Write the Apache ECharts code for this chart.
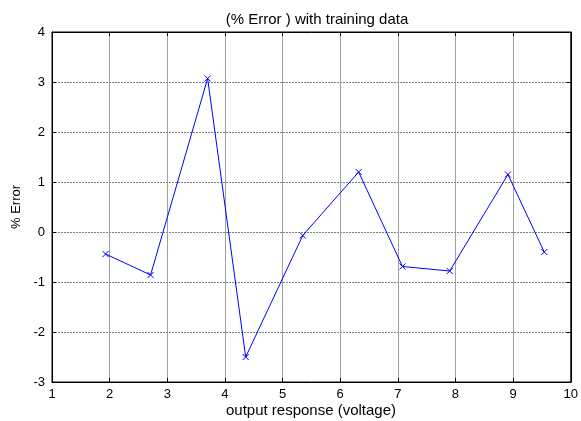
<!DOCTYPE html>
<html>
<head>
<meta charset="utf-8">
<script src="https://cdn.jsdelivr.net/npm/echarts@6/dist/echarts.min.js"></script>
<style>
  html, body { margin: 0; padding: 0; background: #fff; }
  #chart { width: 581px; height: 421px; }
</style>
</head>
<body>
<div id="chart"></div>
<script>
// Output response (volts) and the matching percentage error
const voltage = [1.93, 2.71, 3.70, 4.36, 5.35, 6.32, 7.08, 7.90, 8.91, 9.54];
const percentError = [-0.44, -0.86, 3.07, -2.50, -0.07, 1.20, -0.69, -0.78, 1.15, -0.40];
const xTicks = [1, 2, 3, 4, 5, 6, 7, 8, 9, 10];
const yTicks = [-3, -2, -1, 0, 1, 2, 3, 4];

const points = voltage.map((v, i) => [v, percentError[i]]);
const font = 'Liberation Sans, Arial, sans-serif';
const tickStyle = { inside: true, length: 4, lineStyle: { color: '#000' } };

// Mirrored axes on the top and right edges carry the inward ticks only
function mirrorAxis(ticks, position) {
  return {
    type: 'value',
    position: position,
    min: ticks[0],
    max: ticks[ticks.length - 1],
    interval: 1,
    axisLine: { show: true, onZero: false, lineStyle: { color: '#000' } },
    axisTick: tickStyle,
    axisLabel: { show: false },
    splitLine: { show: false }
  };
}

const chart = echarts.init(document.getElementById('chart'), null, { renderer: 'canvas' });
chart.setOption({
  animation: false,
  backgroundColor: '#fff',
  title: {
    text: '(% Error ) with training data',
    left: 312,
    top: 7,
    textAlign: 'center',
    textStyle: { fontFamily: font, fontSize: 15, fontWeight: 'normal', color: '#000' }
  },
  graphic: [{
    type: 'text',
    style: {
      text: 'output response (voltage)',
      x: 311, y: 411,
      align: 'center', verticalAlign: 'middle',
      font: '15px ' + font, fill: '#000'
    }
  }],
  grid: { left: 52, right: 8, top: 32, bottom: 39, show: true, borderColor: '#000', borderWidth: 1 },
  xAxis: [{
    type: 'value',
    min: xTicks[0],
    max: xTicks[xTicks.length - 1],
    interval: 1,
    axisLine: { show: true, onZero: false, lineStyle: { color: '#000' } },
    axisTick: tickStyle,
    axisLabel: { fontFamily: font, fontSize: 13, color: '#000', margin: 6 },
    splitLine: { show: true, lineStyle: { color: '#a0a0a0', width: 1 } }
  }, mirrorAxis(xTicks, 'top')],
  yAxis: [{
    type: 'value',
    min: yTicks[0],
    max: yTicks[yTicks.length - 1],
    interval: 1,
    name: '% Error',
    nameLocation: 'middle',
    nameGap: 27,
    nameTextStyle: { fontFamily: font, fontSize: 13, color: '#000' },
    axisLine: { show: true, onZero: false, lineStyle: { color: '#000' } },
    axisTick: tickStyle,
    axisLabel: { fontFamily: font, fontSize: 13, color: '#000', margin: 7 },
    splitLine: { show: true, lineStyle: { color: '#808080', width: 1, type: [2, 1] } }
  }, mirrorAxis(yTicks, 'right')],
  series: [{
    type: 'line',
    data: points,
    symbol: 'path://M0,0L10,10M10,0L0,10',
    symbolSize: 6,
    showAllSymbol: true,
    itemStyle: { color: 'none', borderColor: '#0000ff', borderWidth: 1 },
    lineStyle: { color: '#0000ff', width: 1 }
  }]
});
</script>
</body>
</html>
